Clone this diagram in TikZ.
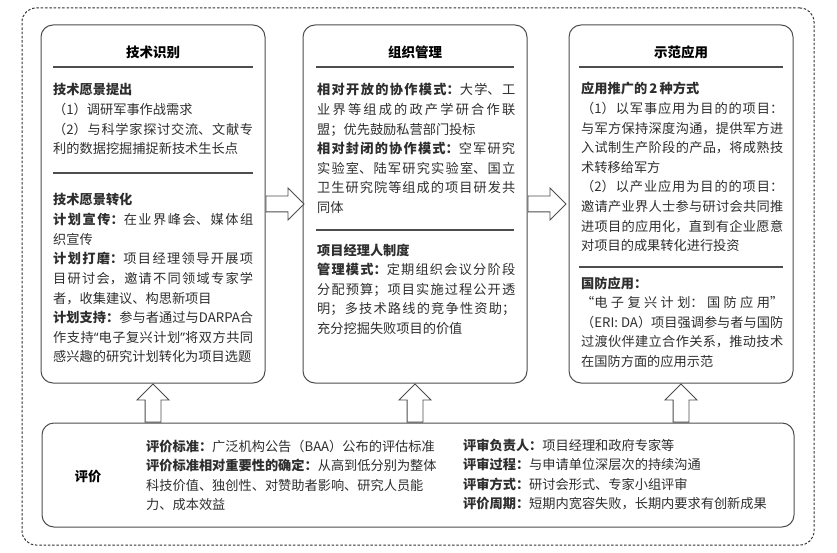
\documentclass[tikz,border=0pt]{standalone}
\usepackage{fontspec}
\setmainfont{Noto Sans CJK SC}
\newfontfamily\quotefont{Noto Sans}
\usetikzlibrary{shapes.arrows,positioning}
\definecolor{boxline}{HTML}{4D4D4D}
\definecolor{inkgray}{HTML}{2E2E2E}
\XeTeXlinebreaklocale "zh"
\XeTeXlinebreakskip=0pt plus 2pt minus 0.5pt
\newcommand\looselines{\tolerance=10000\relax}
\newcommand\narrowquote[1]{{\quotefont “}#1{\quotefont ”}}

\begin{document}
\begin{tikzpicture}[x=1pt,y=-1pt,
  font=\fontsize{13.2}{19.6}\selectfont,
  panel/.style={draw=boxline,line width=1pt,rounded corners=12pt,
    minimum width=224pt,minimum height=358pt},
  ttl/.style={font=\fontsize{13.5}{16}\selectfont\bfseries,text=black},
  txt/.style={anchor=base west,inner sep=0pt,align=justify,text=inkgray,
    execute at begin node=\looselines},
  sepline/.style={draw=boxline,line width=1.3pt},
  blockarr/.style={single arrow,draw=boxline,fill=white,line width=0.9pt,
    inner sep=7.5pt,single arrow head extend=8pt,minimum height=38pt,anchor=tail}
]
\useasboundingbox (0,0) rectangle (837,553);
\node[draw=black!80,line width=1pt,dash pattern=on 2.5pt off 1.8pt,
  rounded corners=14pt,minimum width=792pt,minimum height=537pt] (frame) at (418,276.5) {};

% three stages
\node[panel] (tech) at (153,204) {};
\node[panel] (org) at (415,204) {};
\node[panel] (demo) at (681,204) {};

\node[ttl] (techT) at (153,52) {技术识别};
\node[ttl] (orgT) at (415,52) {组织管理};
\node[ttl] (demoT) at (681,52) {示范应用};

\draw[sepline] (53,67) -- (253,67);
\draw[sepline] (53,173) -- (253,173);
\draw[sepline] (316,67) -- (514,67);
\draw[sepline] (316,230) -- (514,230);
\draw[sepline] (579,67) -- (783,67);
\draw[sepline] (579,267) -- (783,267);

\node[txt,text width=200pt] (techA) at (53,95) {\textbf{技术愿景提出}\par
（1）调研军事作战需求\par
（2）与科学家探讨交流、文献专\linebreak 利的数据挖掘捕捉新技术生长点};
\node[txt,text width=200pt] (techB) at (53,205) {\textbf{技术愿景转化}\par
\textbf{计划宣传：}在业界峰会、媒体组\linebreak 织宣传\par
\textbf{计划打磨：}项目经理领导开展项\linebreak 目研讨会，邀请不同领域专家学\linebreak 者，收集建议、构思新项目\par
\textbf{计划支持：}参与者通过与DARPA合\linebreak 作支持\narrowquote{电子复兴计划}将双方共同\linebreak 感兴趣的研究计划转化为项目选题};

\node[txt,text width=198pt] (orgA) at (317,95) {\textbf{相对开放的协作模式：}大学、工\linebreak 业界等组成的政产学研合作联\linebreak 盟；优先鼓励私营部门投标\par
\textbf{相对封闭的协作模式：}空军研究\linebreak 实验室、陆军研究实验室、国立\linebreak 卫生研究院等组成的项目研发共\linebreak 同体};
\node[txt,text width=198pt] (orgB) at (317,255) {\textbf{项目经理人制度}\par
\textbf{管理模式：}定期组织会议分阶段\linebreak 分配预算；项目实施过程公开透\linebreak 明；多技术路线的竞争性资助；\linebreak 充分挖掘失败项目的价值};

\node[txt,text width=202pt] (demoA) at (581,94) {\textbf{应用推广的\,2\,种方式}\par
（1）以军事应用为目的的项目：\linebreak 与军方保持深度沟通，提供军方进\linebreak 入试制生产阶段的产品，将成熟技\linebreak 术转移给军方\par
（2）以产业应用为目的的项目：\linebreak 邀请产业界人士参与研讨会共同推\linebreak 进项目的应用化，直到有企业愿意\linebreak 对项目的成果转化进行投资};
\node[txt,text width=202pt] (demoB) at (581,288) {\textbf{国防应用：}\par
“电子复兴计划：国防应用”\linebreak（ERI: DA）项目强调参与者与国防\linebreak 过渡伙伴建立合作关系，推动技术\linebreak 在国防方面的应用示范};

% evaluation
\node[draw=boxline,line width=1pt,rounded corners=12pt,
  minimum width=752pt,minimum height=104pt] (evalbox) at (418,475) {};
\node[ttl,font=\fontsize{13.2}{16}\selectfont\bfseries] (evalT) at (88,477) {评价};
\node[txt,align=left,text width=300pt] (evalL) at (146,451) {\textbf{评价标准：}广泛机构公告（BAA）公布的评估标准\\
\textbf{评价标准相对重要性的确定：}从高到低分别为整体\\
科技价值、独创性、对赞助者影响、研究人员能\\
力、成本效益};
\node[txt,align=left,text width=320pt] (evalR) at (463,450) {\textbf{评审负责人：}项目经理和政府专家等\\
\textbf{评审过程：}与申请单位深层次的持续沟通\\
\textbf{评审方式：}研讨会形式、专家小组评审\\
\textbf{评价周期：}短期内宽容失败，长期内要求有创新成果};

% block arrows
\node[blockarr] (a1) at (tech.east) {};
\node[blockarr] (a2) at (org.east) {};
\node[blockarr,rotate=90] (u1) at (evalbox.north -| tech) {};
\node[blockarr,rotate=90] (u2) at (evalbox.north -| org) {};
\node[blockarr,rotate=90] (u3) at (evalbox.north -| demo) {};
\end{tikzpicture}
\end{document}
